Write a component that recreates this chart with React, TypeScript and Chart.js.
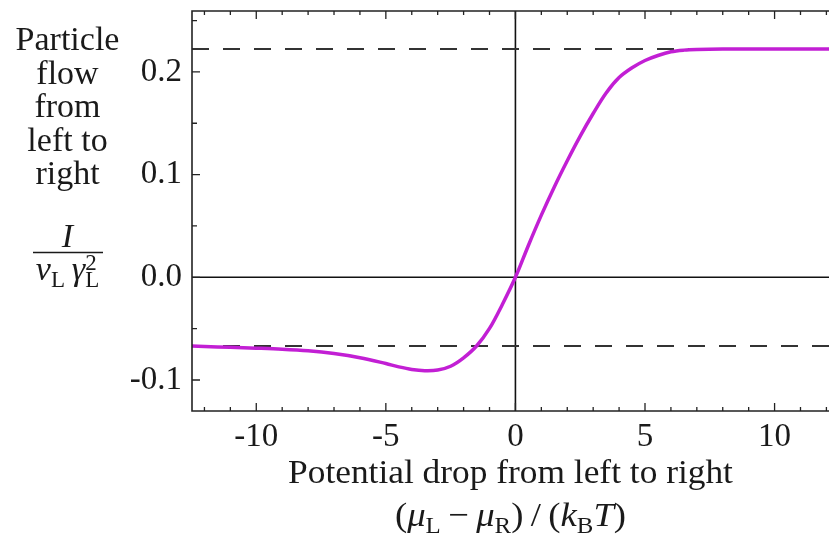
import { useEffect, useRef } from 'react';
import { Chart, registerables } from 'chart.js';

Chart.register(...registerables);

// ---- data ----
const potentialDrop = [-12.5, -12, -11, -10, -9, -8, -7, -6, -5, -4.5, -4, -3.5, -3, -2.5, -2, -1.5, -1, -0.5, 0, 0.5, 1, 1.5, 2, 2.5, 3, 3.5, 4, 4.5, 5, 5.5, 6, 6.5, 7, 8, 9, 10, 11, 12, 12.5];
const particleFlow = [-0.067, -0.0674, -0.0682, -0.069, -0.07, -0.0716, -0.0743, -0.0783, -0.084, -0.0872, -0.0897, -0.0909, -0.0903, -0.0866, -0.0784, -0.0669, -0.0498, -0.0262, 0, 0.031, 0.0605, 0.088, 0.1135, 0.1375, 0.1595, 0.1795, 0.1945, 0.204, 0.2111, 0.216, 0.2196, 0.2212, 0.2218, 0.2222, 0.2222, 0.2222, 0.2222, 0.2222, 0.2222];
const upperLimit = 0.2222;
const lowerLimit = -0.0669;
const xTickValues = [-10, -5, 0, 5, 10];
const yTickValues = [-0.1, 0, 0.1, 0.2];
const xMinorStep = 1;
const yMinorStep = 0.05;
const yTitleLines = ['Particle', 'flow', 'from', 'left to', 'right'];
const xTitle = 'Potential drop from left to right';

const X_MIN = -12.48;
const X_MAX = 12.1;
const Y_MIN = -0.1302;
const Y_MAX = 0.2593;

const FAMILY = '"Liberation Serif", "Times New Roman", serif';
const FS = 34;
const TICK_FS = 33;
const SUB = 23;

type Run = { t: string; italic?: boolean; size?: number; dy?: number; stack?: boolean };

function fontOf(r: Run) {
  return `${r.italic ? 'italic ' : ''}${r.size ?? FS}px ${FAMILY}`;
}

function drawRuns(ctx: CanvasRenderingContext2D, runs: Run[], cx: number, baseline: number, sx = 1) {
  const items: { r: Run; x: number }[] = [];
  let x = 0;
  let prevStart = 0;
  let prevW = 0;
  for (const r of runs) {
    ctx.font = fontOf(r);
    const w = ctx.measureText(r.t).width;
    if (r.stack) {
      items.push({ r, x: prevStart });
      prevW = Math.max(prevW, w);
      x = prevStart + prevW;
    } else {
      items.push({ r, x });
      prevStart = x;
      prevW = w;
      x += w;
    }
  }
  ctx.save();
  ctx.translate(cx, baseline);
  ctx.scale(sx, 1);
  const left = -x / 2;
  ctx.textAlign = 'left';
  ctx.textBaseline = 'alphabetic';
  for (const it of items) {
    ctx.font = fontOf(it.r);
    ctx.fillText(it.r.t, left + it.x, it.r.dy ?? 0);
  }
  ctx.restore();
}

const decorPlugin = {
  id: 'decor',
  beforeDatasetsDraw(chart: any) {
    const { ctx, chartArea: a, scales } = chart;
    const x0 = scales.x.getPixelForValue(0);
    const y0 = scales.y.getPixelForValue(0);
    ctx.save();
    ctx.strokeStyle = '#111';
    ctx.lineWidth = 1.6;
    ctx.beginPath();
    ctx.moveTo(x0, a.top);
    ctx.lineTo(x0, a.bottom);
    ctx.moveTo(a.left, y0);
    ctx.lineTo(a.right, y0);
    ctx.stroke();
    ctx.restore();
  },
  afterDatasetsDraw(chart: any) {
    const { ctx, chartArea: a, scales } = chart;
    ctx.save();
    ctx.strokeStyle = '#222';
    ctx.lineWidth = 1.6;
    ctx.beginPath();
    ctx.moveTo(a.right + 2, a.top);
    ctx.lineTo(a.left, a.top);
    ctx.lineTo(a.left, a.bottom);
    ctx.lineTo(a.right + 2, a.bottom);
    ctx.stroke();
    ctx.lineWidth = 1.3;
    ctx.beginPath();
    for (let v = -12; v <= 12.001; v += xMinorStep) {
      const px = scales.x.getPixelForValue(v);
      if (px < a.left + 1 || px > a.right) continue;
      const major = Math.abs(v % 5) < 1e-6;
      const len = major ? 8 : 4;
      ctx.moveTo(px, a.bottom);
      ctx.lineTo(px, a.bottom - len);
      ctx.moveTo(px, a.top);
      ctx.lineTo(px, a.top + len);
    }
    for (let i = -2; i <= 5; i++) {
      const v = i * yMinorStep;
      const py = scales.y.getPixelForValue(v);
      if (py < a.top + 1 || py > a.bottom - 1) continue;
      const major = i % 2 === 0;
      const len = major ? 8 : 5;
      ctx.moveTo(a.left, py);
      ctx.lineTo(a.left + len, py);
    }
    ctx.stroke();
    ctx.restore();
  },
  afterDraw(chart: any) {
    const { ctx, chartArea: a } = chart;
    ctx.save();
    ctx.fillStyle = '#1a1a1a';
    const cx = 67.5;
    const baselines = [50, 83.5, 117, 150.5, 184];
    yTitleLines.forEach((t, i) => drawRuns(ctx, [{ t }], cx, baselines[i]));
    // fraction I / (nu_L gamma_L^2)
    drawRuns(ctx, [{ t: 'I', italic: true }], cx, 247);
    ctx.strokeStyle = '#1a1a1a';
    ctx.lineWidth = 1.5;
    ctx.beginPath();
    ctx.moveTo(33, 252.5);
    ctx.lineTo(103, 252.5);
    ctx.stroke();
    drawRuns(
      ctx,
      [
        { t: '\u03BD', italic: true },
        { t: 'L', size: SUB, dy: 7 },
        { t: '\u2009\u03B3', italic: true },
        { t: '2', size: SUB, dy: -10 },
        { t: 'L', size: SUB, dy: 7, stack: true },
      ],
      cx,
      280
    );
    const xc = (a.left + a.right) / 2;
    drawRuns(ctx, [{ t: xTitle }], xc, 483, 1.04);
    drawRuns(
      ctx,
      [
        { t: '(' },
        { t: '\u03BC', italic: true },
        { t: 'L', size: SUB, dy: 7 },
        { t: '\u2009\u2212\u2009' },
        { t: '\u03BC', italic: true },
        { t: 'R', size: SUB, dy: 7 },
        { t: ')\u2009/\u2009(' },
        { t: 'k', italic: true },
        { t: 'B', size: SUB, dy: 7 },
        { t: 'T', italic: true },
        { t: ')' },
      ],
      xc,
      526,
      1.08
    );
    ctx.restore();
  },
};

export default function App() {
  const ref = useRef<HTMLCanvasElement | null>(null);
  useEffect(() => {
    if (!ref.current) return;
    const curve = potentialDrop.map((x, i) => ({ x, y: particleFlow[i] }));
    const chart = new Chart(ref.current, {
      type: 'line',
      data: {
        datasets: [
          {
            data: curve,
            borderColor: '#C21FD4',
            borderWidth: 3.5,
            pointRadius: 0,
            tension: 0.35,
            order: 0,
          },
          {
            data: [
              { x: X_MIN, y: upperLimit },
              { x: X_MAX + 1, y: upperLimit },
            ],
            borderColor: '#333',
            borderWidth: 2,
            borderDash: [17, 14],
            pointRadius: 0,
            order: 1,
          },
          {
            data: [
              { x: X_MIN, y: lowerLimit },
              { x: X_MAX + 1, y: lowerLimit },
            ],
            borderColor: '#333',
            borderWidth: 2,
            borderDash: [17, 14],
            pointRadius: 0,
            order: 1,
          },
        ],
      },
      options: {
        animation: false,
        responsive: false,
        devicePixelRatio: 1,
        layout: { padding: { left: 0, right: 0, top: 11, bottom: 0 } },
        plugins: { legend: { display: false }, tooltip: { enabled: false } },
        scales: {
          x: {
            type: 'linear',
            min: X_MIN,
            max: X_MAX,
            grid: { display: false, drawTicks: false },
            border: { display: false },
            afterBuildTicks: (s: any) => {
              s.ticks = xTickValues.map((v) => ({ value: v }));
            },
            afterFit: (s: any) => {
              s.height = 124;
              s.paddingLeft = 0;
              s.paddingRight = 0;
            },
            ticks: {
              color: '#1a1a1a',
              font: { family: FAMILY, size: TICK_FS },
              padding: 7,
              maxRotation: 0,
              autoSkip: false,
              callback: (v: any) => String(v),
            },
          },
          y: {
            type: 'linear',
            min: Y_MIN,
            max: Y_MAX,
            grid: { display: false, drawTicks: false },
            border: { display: false },
            afterBuildTicks: (s: any) => {
              s.ticks = yTickValues.map((v) => ({ value: v }));
            },
            afterFit: (s: any) => {
              s.width = 192;
              s.paddingTop = 0;
              s.paddingBottom = 0;
            },
            ticks: {
              color: '#1a1a1a',
              font: { family: FAMILY, size: TICK_FS },
              padding: 10,
              autoSkip: false,
              callback: (v: any) => Number(v).toFixed(1),
            },
          },
        },
      },
      plugins: [decorPlugin],
    });
    return () => chart.destroy();
  }, []);
  return (
    <div style={{ position: 'absolute', left: 0, top: 0, width: 829, height: 535, background: '#fff', overflow: 'hidden' }}>
      <canvas ref={ref} width={829} height={535} style={{ display: 'block' }} />
    </div>
  );
}
